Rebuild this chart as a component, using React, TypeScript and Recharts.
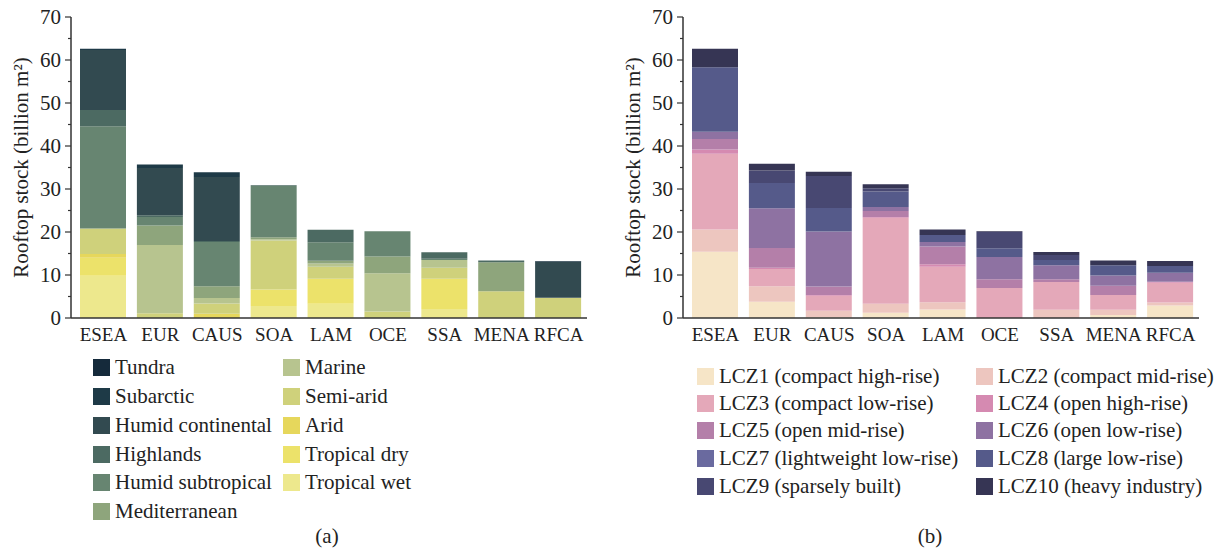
import React from "react";
import { Bar, BarChart, XAxis, YAxis } from "recharts";

const regions = ["ESEA", "EUR", "CAUS", "SOA", "LAM", "OCE", "SSA", "MENA", "RFCA"];
const yTicks = [0, 5, 10, 15, 20, 25, 30, 35, 40, 45, 50, 55, 60, 65, 70];

// (a) climate zones, bottom of stack first
const tropicalWet = [9.8, 0, 0, 2.8, 3.3, 0, 2.1, 0, 0];
const tropicalDry = [4.2, 0, 0, 3.8, 5.8, 0, 7.0, 0, 0];
const arid = [0.9, 0, 1.0, 0, 0, 0, 0, 0, 0];
const semiArid = [5.9, 1.1, 2.4, 11.4, 2.8, 1.5, 2.6, 6.2, 4.7];
const marine = [0, 15.9, 1.25, 0.3, 0.8, 8.9, 1.8, 0, 0];
const mediterranean = [0, 4.5, 2.75, 0.5, 0.6, 3.9, 0, 6.75, 0];
const humidSubtropical = [23.8, 2.0, 10.3, 11.9, 4.3, 5.9, 0.3, 0, 0];
const highlands = [3.8, 0.4, 0.2, 0.2, 2.9, 0, 1.5, 0.45, 0];
const humidContinental = [13.9, 11.0, 14.9, 0, 0, 0, 0, 0, 8.3];
const subarctic = [0.3, 0.8, 1.1, 0, 0, 0, 0, 0, 0.15];
const tundra = [0, 0, 0, 0, 0, 0, 0, 0, 0.1];

const climate = [
  { name: "Tropical wet", color: "#ede88d", values: tropicalWet },
  { name: "Tropical dry", color: "#ece26a", values: tropicalDry },
  { name: "Arid", color: "#e6d75c", values: arid },
  { name: "Semi-arid", color: "#cfd17b", values: semiArid },
  { name: "Marine", color: "#b7c48f", values: marine },
  { name: "Mediterranean", color: "#8ea57c", values: mediterranean },
  { name: "Humid subtropical", color: "#678571", values: humidSubtropical },
  { name: "Highlands", color: "#4c6a62", values: highlands },
  { name: "Humid continental", color: "#324a50", values: humidContinental },
  { name: "Subarctic", color: "#1e3a47", values: subarctic },
  { name: "Tundra", color: "#152a3b", values: tundra },
];

// (b) local climate zones, bottom of stack first
const lcz1 = [15.4, 3.8, 0.2, 1.2, 2.0, 0, 0, 0.7, 2.9];
const lcz2 = [5.2, 3.6, 1.5, 2.1, 1.65, 0, 1.9, 1.2, 0.7];
const lcz3 = [17.6, 4.0, 3.5, 20.0, 8.25, 7.0, 6.5, 3.45, 4.6];
const lcz4 = [1.0, 0.3, 0.15, 0.2, 0.6, 0, 0, 0, 0.25];
const lcz5 = [2.4, 4.6, 1.95, 1.4, 4.1, 2.0, 0.6, 2.15, 0];
const lcz6 = [1.7, 9.2, 12.8, 0.9, 1.1, 5.2, 3.25, 2.4, 2.05];
const lcz7 = [0, 0, 0, 0, 0, 0, 0, 0, 0];
const lcz8 = [15.0, 5.9, 5.5, 3.6, 1.6, 2.0, 1.25, 2.35, 1.6];
const lcz9 = [0, 2.9, 7.4, 0.8, 0, 3.8, 1.15, 0, 0];
const lcz10 = [4.3, 1.6, 1.0, 0.9, 1.3, 0.2, 0.7, 1.15, 1.15];

const lcz = [
  { name: "LCZ1 (compact high-rise)", color: "#f6e5c7", values: lcz1 },
  { name: "LCZ2 (compact mid-rise)", color: "#edc6bf", values: lcz2 },
  { name: "LCZ3 (compact low-rise)", color: "#e4a8b9", values: lcz3 },
  { name: "LCZ4 (open high-rise)", color: "#d58ab1", values: lcz4 },
  { name: "LCZ5 (open mid-rise)", color: "#b47fa9", values: lcz5 },
  { name: "LCZ6 (open low-rise)", color: "#8e72a2", values: lcz6 },
  { name: "LCZ7 (lightweight low-rise)", color: "#6a6a9f", values: lcz7 },
  { name: "LCZ8 (large low-rise)", color: "#555a8a", values: lcz8 },
  { name: "LCZ9 (sparsely built)", color: "#484872", values: lcz9 },
  { name: "LCZ10 (heavy industry)", color: "#363554", values: lcz10 },
];

type Series = { name: string; color: string; values: number[] };

const FONT = '"Liberation Serif", "Times New Roman", serif';

function toRows(series: Series[]) {
  return regions.map((r, i) => {
    const row: Record<string, string | number> = { region: r };
    series.forEach((s) => (row[s.name] = s.values[i]));
    return row;
  });
}

function YTick(props: any) {
  const { x, y, payload } = props;
  const major = payload.value % 10 === 0;
  const axisX = x + 10;
  return (
    <g>
      <line x1={axisX - (major ? 6 : 3)} x2={axisX} y1={y} y2={y} stroke="#333" strokeWidth={1.2} />
      {major && (
        <text x={x} y={y} dy="0.35em" textAnchor="end" fontSize={21} fontFamily={FONT} fill="#222">
          {payload.value}
        </text>
      )}
    </g>
  );
}

function YLabel(props: any) {
  const { viewBox } = props;
  const cx = viewBox.x + 21;
  const cy = viewBox.y + viewBox.height / 2;
  return (
    <text x={cx} y={cy} transform={`rotate(-90 ${cx} ${cy})`} textAnchor="middle" dy="0.35em" fontSize={21} fontFamily={FONT} fill="#222">
      Rooftop stock (billion m²)
    </text>
  );
}

function StackChart({ series }: { series: Series[] }) {
  const data = toRows(series);
  return (
    <BarChart width={600} height={350} data={data} margin={{ top: 17, right: 13, left: 0, bottom: 0 }} barSize={46}>
      <XAxis
        dataKey="region"
        padding={{ left: 4, right: 0 }}
        height={32}
        tickLine={false}
        tickSize={0}
        tickMargin={10}
        axisLine={{ stroke: "#333", strokeWidth: 1.5 }}
        tick={{ fontSize: 19, fontFamily: FONT, fill: "#222" }}
        interval={0}
      />
      <XAxis xAxisId="top" orientation="top" dataKey="region" height={0} tick={false} tickLine={false} axisLine={{ stroke: "#888", strokeWidth: 1.5 }} />
      <YAxis
        domain={[0, 70]}
        ticks={yTicks}
        interval={0}
        width={71}
        tickSize={6}
        tickMargin={4}
        tickLine={false}
        axisLine={{ stroke: "#333", strokeWidth: 1.5 }}
        tick={<YTick />}
        label={<YLabel />}
      />
      <YAxis yAxisId="right" orientation="right" width={0} tick={false} tickLine={false} axisLine={{ stroke: "#333", strokeWidth: 1.5 }} />
      {series.map((s) => (
        <Bar key={s.name} dataKey={s.name} stackId="a" fill={s.color} isAnimationActive={false} />
      ))}
    </BarChart>
  );
}

function LegendItem({ s, x, y }: { s: Series; x: number; y: number }) {
  return (
    <div style={{ position: "absolute", left: x, top: y - 12, height: 24, display: "flex", alignItems: "center", whiteSpace: "nowrap" }}>
      <span style={{ width: 17, height: 17, background: s.color, display: "inline-block", marginRight: 5 }} />
      <span style={{ fontSize: 21, fontFamily: FONT, color: "#222" }}>{s.name}</span>
    </div>
  );
}

export default function App() {
  const climateTopFirst = [...climate].reverse();
  const col1 = climateTopFirst.slice(0, 6);
  const col2 = climateTopFirst.slice(6);
  const rowsA = [367, 396, 425, 454, 482, 511];
  const rowsB = [376, 403, 430, 458, 486];
  return (
    <div style={{ position: "absolute", left: 0, top: 0, width: 1225, height: 550, background: "#fff", overflow: "hidden" }}>
      <div style={{ position: "absolute", left: 0, top: 0 }}>
        <StackChart series={climate} />
      </div>
      <div style={{ position: "absolute", left: 612, top: 0 }}>
        <StackChart series={lcz} />
      </div>
      {col1.map((s, i) => (
        <LegendItem key={s.name} s={s} x={93} y={rowsA[i]} />
      ))}
      {col2.map((s, i) => (
        <LegendItem key={s.name} s={s} x={283} y={rowsA[i]} />
      ))}
      {lcz.map((s, i) => (
        <LegendItem key={s.name} s={s} x={i % 2 === 0 ? 697 : 976} y={rowsB[Math.floor(i / 2)]} />
      ))}
      <div style={{ position: "absolute", left: 300, width: 54, top: 524, textAlign: "center", fontSize: 21, fontFamily: FONT, color: "#222" }}>(a)</div>
      <div style={{ position: "absolute", left: 903, width: 54, top: 524, textAlign: "center", fontSize: 21, fontFamily: FONT, color: "#222" }}>(b)</div>
    </div>
  );
}
